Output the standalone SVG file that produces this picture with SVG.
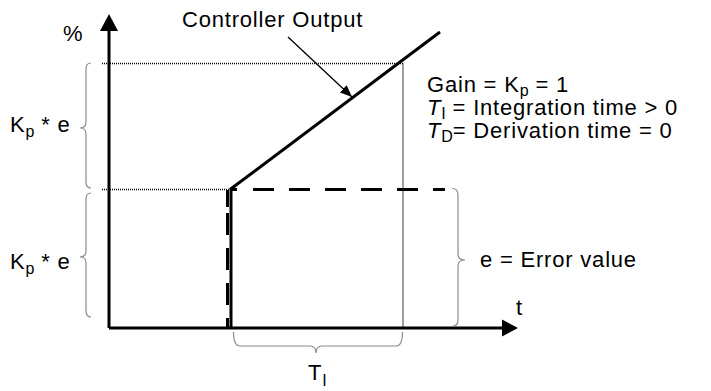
<svg xmlns="http://www.w3.org/2000/svg" width="711" height="391" viewBox="0 0 711 391">
<defs>
<style>
text { font-family: "Liberation Sans", Arial, sans-serif; font-size: 22px; letter-spacing: 0.8px; fill: #000; }
.sub { font-size: 16px; letter-spacing: 0; }
.axis { stroke: #000; stroke-width: 3; fill: none; }
.thick { stroke: #000; stroke-width: 3; fill: none; }
.dash { stroke: #000; stroke-width: 3; fill: none; }
.dot { stroke: #000; stroke-width: 1.5; stroke-dasharray: 1 1; fill: none; }
.brace { stroke: #8a8a8a; stroke-width: 1.2; fill: none; }
</style>
<marker id="arr" markerWidth="12" markerHeight="10" refX="12" refY="5" orient="auto" markerUnits="userSpaceOnUse">
<path d="M0,0 L12,5 L0,10 Z" fill="#000"/>
</marker>
</defs>
<rect width="711" height="391" fill="#fff"/>
<g id="guides">
<line class="dot" x1="102" y1="63.5" x2="403" y2="63.5"/>
<line class="dot" x1="102" y1="189.5" x2="236" y2="189.5"/>
<line class="dot" x1="403" y1="63.5" x2="403" y2="328"/>
</g>
<g id="axes">
<line class="axis" x1="109" y1="328" x2="109" y2="28"/>
<path d="M100,31 L109,14 L118,31 Z" fill="#000"/>
<line class="axis" x1="109" y1="328" x2="504" y2="328"/>
<path d="M502,319.5 L518,328 L502,336.5 Z" fill="#000"/>
</g>
<g id="connectors">
<line class="dash" x1="227.5" y1="190" x2="227.5" y2="328" stroke-dasharray="17 6 22 13 22 13 22 13 22"/>
<line class="thick" x1="231" y1="189" x2="231" y2="329"/>
<line class="dash" x1="231" y1="189.5" x2="445" y2="189.5" stroke-dasharray="6 16 21 15 21 15 21 15 21 15 21 15 21"/>
<line class="thick" x1="230" y1="189.5" x2="440" y2="32"/>
<line x1="288" y1="37" x2="352" y2="97" stroke="#000" stroke-width="1.3" marker-end="url(#arr)"/>
</g>
<g id="braces">
<path class="brace" d="M91,63 Q86,63 86,69 L86,122 Q86,128 80,128 Q86,128 86,134 L86,182 Q86,188 91,188"/>
<path class="brace" d="M91,193 Q86,193 86,199 L86,251 Q86,257 80,257 Q86,257 86,263 L86,311 Q86,317 91,317"/>
<path class="brace" d="M452,188.5 Q458,188.5 458,195 L458,254 Q458,260 465,260 Q458,260 458,266 L458,320 Q458,326 453,326"/>
<path class="brace" d="M233.5,332 Q233.5,346 240,346 L310,346 Q316,346 316,353 Q316,346 322,346 L396,346 Q402.5,346 402.5,332"/>
</g>
<g id="labels">
<text x="63" y="41">%</text>
<text x="182" y="27">Controller Output</text>
<text x="427" y="91.5">Gain = K<tspan class="sub" dy="4">p</tspan><tspan dy="-4"> = 1</tspan><tspan x="427" dy="23" font-style="italic">T</tspan><tspan class="sub" dy="4">I</tspan><tspan dy="-4"> = Integration time &gt; 0</tspan><tspan x="427" dy="23" font-style="italic">T</tspan><tspan class="sub" dy="4">D</tspan><tspan dy="-4">= Derivation time = 0</tspan></text>
<text x="10" y="131.5">K<tspan class="sub" dy="5">p</tspan><tspan dy="-5"> * e</tspan></text>
<text x="10" y="268.5">K<tspan class="sub" dy="5">p</tspan><tspan dy="-5"> * e</tspan></text>
<text x="480" y="266.5">e = Error value</text>
<text x="516" y="315">t</text>
<text x="308" y="379.5">T<tspan class="sub" dy="6.5">I</tspan></text>
</g>
</svg>
